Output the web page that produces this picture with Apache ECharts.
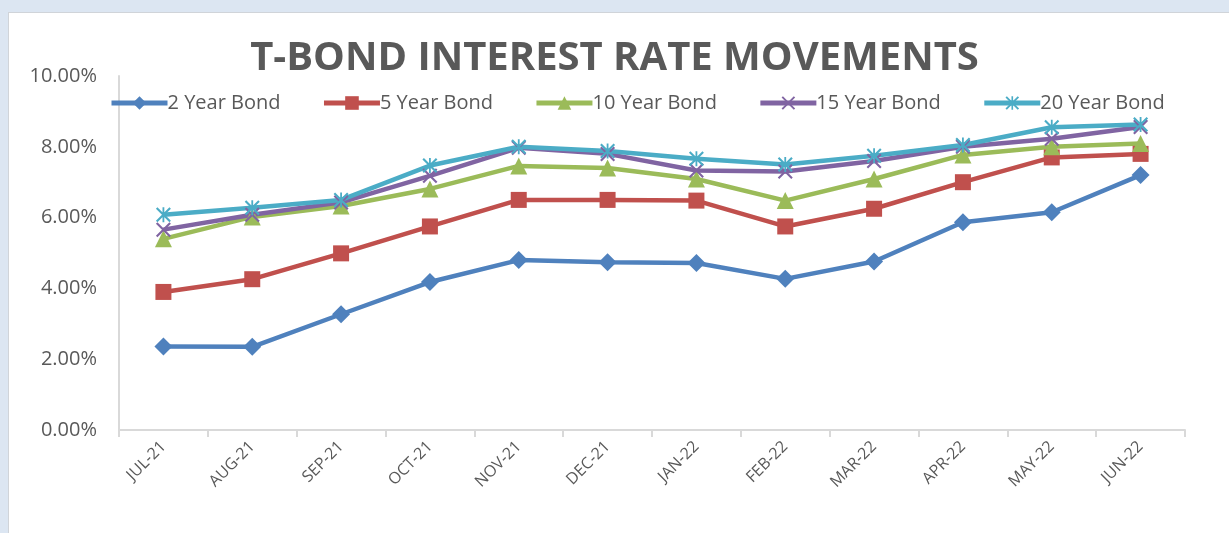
<!DOCTYPE html>
<html>
<head>
<meta charset="utf-8">
<script src="https://cdn.jsdelivr.net/npm/echarts@6/dist/echarts.min.js"></script>
<style>
  html, body { margin: 0; padding: 0; background: #dce6f2; }
  #panel {
    position: absolute; left: 8px; top: 12px; width: 1221px; height: 521px;
    background: #fff; border-left: 1px solid #d0d4d9; border-top: 1px solid #d0d4d9;
    box-sizing: border-box;
  }
  #chart { position: absolute; left: 0; top: 0; width: 1229px; height: 533px; }
</style>
</head>
<body>
<div id="panel"></div>
<div id="chart"></div>
<script>
// data
var months = ["JUL-21", "AUG-21", "SEP-21", "OCT-21", "NOV-21", "DEC-21",
              "JAN-22", "FEB-22", "MAR-22", "APR-22", "MAY-22", "JUN-22"];
var bond2  = [2.36, 2.35, 3.27, 4.18, 4.80, 4.74, 4.72, 4.27, 4.76, 5.87, 6.15, 7.20];
var bond5  = [3.90, 4.26, 4.99, 5.75, 6.50, 6.50, 6.48, 5.75, 6.25, 7.00, 7.70, 7.80];
var bond10 = [5.40, 6.02, 6.33, 6.81, 7.46, 7.40, 7.09, 6.48, 7.09, 7.77, 8.00, 8.09];
var bond15 = [5.66, 6.08, 6.43, 7.18, 7.97, 7.80, 7.33, 7.30, 7.60, 8.00, 8.23, 8.56];
var bond20 = [6.08, 6.28, 6.50, 7.47, 8.00, 7.88, 7.66, 7.50, 7.75, 8.05, 8.55, 8.63];

var FONT = "'Open Sans', 'Noto Sans', sans-serif";
var GRAY = "#595959";

// marker shapes
var xMark = "path://M0,1L1,0L10,9L9,10ZM9,0L10,1L1,10L0,9Z";
var starMark = "path://M0,1L1,0L10,9L9,10ZM9,0L10,1L1,10L0,9ZM4.4,0L5.6,0L5.6,10L4.4,10Z";

function makeSeries(name, data, color, symbol, size) {
  return {
    name: name,
    type: "line",
    data: data,
    symbol: symbol,
    symbolSize: size,
    showAllSymbol: true,
    lineStyle: { color: color, width: 4.5 },
    itemStyle: { color: color },
    emphasis: { disabled: true }
  };
}

var myChart = echarts.init(document.getElementById("chart"));
var option = {
  animation: false,
  title: {
    text: "T-BOND INTEREST RATE MOVEMENTS",
    left: "center",
    top: 34,
    textStyle: { fontFamily: FONT, fontSize: 40, fontWeight: "bold", color: GRAY }
  },
  legend: {
    top: 88,
    left: 104,
    itemWidth: 56,
    itemHeight: 17,
    itemGap: 41,
    lineStyle: { width: 5 },
    textStyle: { fontFamily: FONT, fontSize: 20, color: GRAY, padding: [0, 0, 0, -5] },
    data: ["2 Year Bond", "5 Year Bond", "10 Year Bond", "15 Year Bond", "20 Year Bond"]
  },
  grid: { left: 119, right: 44, top: 76, bottom: 103, containLabel: false },
  xAxis: {
    type: "category",
    data: months,
    axisLine: { lineStyle: { color: "#d9d9d9", width: 2 } },
    axisTick: { show: true, length: 7, lineStyle: { color: "#d9d9d9", width: 2 } },
    axisLabel: {
      rotate: 45, margin: 14, color: GRAY, fontFamily: FONT, fontSize: 16,
      interval: 0
    }
  },
  yAxis: {
    type: "value",
    min: 0,
    max: 10,
    interval: 2,
    axisLine: { show: true, lineStyle: { color: "#d9d9d9", width: 2 } },
    axisTick: { show: false },
    splitLine: { show: false },
    axisLabel: {
      margin: 22, color: GRAY, fontFamily: FONT, fontSize: 20,
      formatter: function (v) { return v.toFixed(2) + "%"; }
    }
  },
  series: [
    makeSeries("2 Year Bond", bond2, "#4f81bd", "diamond", 18),
    makeSeries("5 Year Bond", bond5, "#c0504d", "rect", 16),
    makeSeries("10 Year Bond", bond10, "#9bbb59", "triangle", 17),
    makeSeries("15 Year Bond", bond15, "#8064a2", xMark, 15),
    makeSeries("20 Year Bond", bond20, "#4bacc6", starMark, 15)
  ]
};
myChart.setOption(option);
</script>
</body>
</html>
